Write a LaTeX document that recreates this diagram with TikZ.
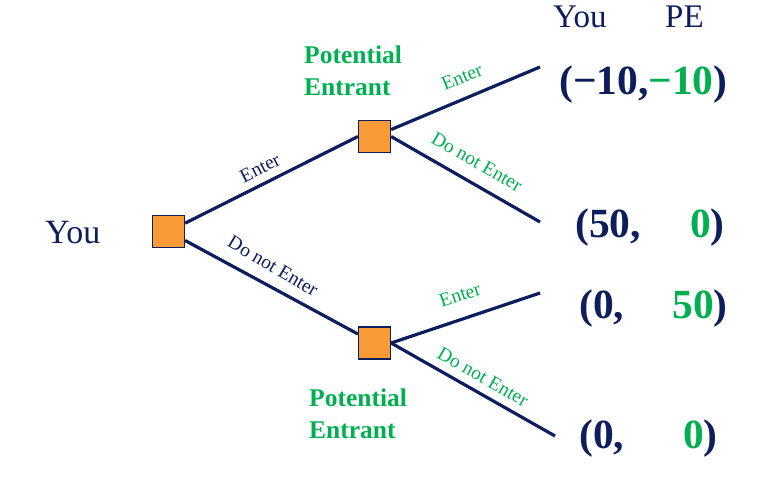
\documentclass[tikz,border=0pt]{standalone}
\usepackage{fontspec}
\setmainfont{Liberation Serif}
\definecolor{navy}{RGB}{14,30,92}
\definecolor{pegreen}{RGB}{0,176,80}
\definecolor{boxorange}{RGB}{248,154,54}
\begin{document}
\begin{tikzpicture}[x=1pt,y=-1pt,
  decision/.style={draw=navy,line width=1.2pt,fill=boxorange,minimum size=32pt,inner sep=0pt},
  branch/.style={draw=navy,line width=3.2pt},
  edgelab/.style={font=\fontsize{19.5}{22}\selectfont,inner sep=0pt},
  payoff/.style={font=\fontsize{41.5}{46}\selectfont\bfseries,inner sep=0pt},
  header/.style={font=\fontsize{33}{38}\selectfont,text=navy,inner sep=0pt,anchor=base west},
  pelabel/.style={font=\fontsize{25.5}{31.5}\selectfont\bfseries,text=pegreen,align=left,inner sep=0pt,anchor=north west}]
\useasboundingbox (0,0) rectangle (760,483);
% decision nodes
\node[decision] (root) at (168.5,231.5) {};
\node[decision] (pe1) at (374.5,136.5) {};
\node[decision] (pe2) at (374.5,343) {};
% free ends
\coordinate (e1) at (540,67);
\coordinate (e2) at (540,222);
\coordinate (e3) at (540,293);
\coordinate (e4) at (555,436);
% branches
\draw[branch] (root) -- (pe1.west);
\draw[branch] (root) -- (pe2);
\draw[branch] (pe1) -- (e1);
\draw[branch] (pe1.east) -- (e2);
\draw[branch] (pe2.east) -- (e3);
\draw[branch] (pe2.east) -- (e4);
% branch labels
\node[edgelab,text=navy,rotate=26.6] (l1) at (260,168) {Enter};
\node[edgelab,text=navy,rotate=-30.5] (l2) at (273,266) {Do not Enter};
\node[edgelab,text=pegreen,rotate=22.5] (l3) at (462,77) {Enter};
\node[edgelab,text=pegreen,rotate=-29.8] (l4) at (477,162) {Do not Enter};
\node[edgelab,text=pegreen,rotate=18.5] (l5) at (460,295) {Enter};
\node[edgelab,text=pegreen,rotate=-29.6] (l6) at (483,377) {Do not Enter};
% player labels
\node[font=\fontsize{34}{40}\selectfont,text=navy,inner sep=0pt,anchor=base west] (you) at (45,243) {You};
\node[pelabel] (pel1) at (304,46) {Potential\\Entrant};
\node[pelabel] (pel2) at (309,389) {Potential\\Entrant};
% headers
\node[header] (hyou) at (553,27) {You};
\node[header] (hpe) at (665,27) {PE};
% payoffs
\node[payoff,anchor=base west] (p1) at (559,94) {\textcolor{navy}{(−10,}\textcolor{pegreen}{−10}\textcolor{navy}{)}};
\node[payoff,anchor=base west,text=navy] (p2a) at (575,237) {(50,};
\node[payoff,anchor=base east] (p2b) at (725,237) {\textcolor{pegreen}{0}\textcolor{navy}{)}};
\node[payoff,anchor=base west,text=navy] (p3a) at (579,318) {(0,};
\node[payoff,anchor=base east] (p3b) at (728,318) {\textcolor{pegreen}{50}\textcolor{navy}{)}};
\node[payoff,anchor=base west,text=navy] (p4a) at (579,448) {(0,};
\node[payoff,anchor=base east] (p4b) at (718,448) {\textcolor{pegreen}{0}\textcolor{navy}{)}};
\end{tikzpicture}
\end{document}
